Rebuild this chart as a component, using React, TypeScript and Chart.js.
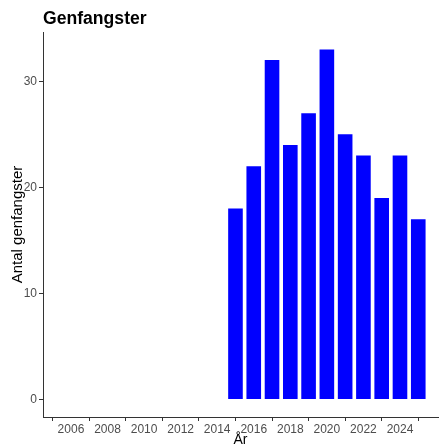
import React, { useEffect, useRef } from "react";
import { Chart, registerables } from "chart.js";

Chart.register(...registerables);

const years = [2015, 2016, 2017, 2018, 2019, 2020, 2021, 2022, 2023, 2024, 2025];
const recaptures = [18, 22, 32, 24, 27, 33, 25, 23, 19, 23, 17];
const xTicks = [2006, 2008, 2010, 2012, 2014, 2016, 2018, 2020, 2022, 2024];
const yTicks = [0, 10, 20, 30];
const titleText = "Genfangster";
const xTitle = "År";
const yTitle = "Antal genfangster";

const FONT = "'Liberation Sans', Arial, sans-serif";

const textPlugin = {
  id: "textPlugin",
  afterDraw(chart: any) {
    const { ctx, chartArea } = chart;
    ctx.save();
    ctx.fillStyle = "#000";
    ctx.font = `bold 17.6px ${FONT}`;
    ctx.textAlign = "left";
    ctx.textBaseline = "alphabetic";
    ctx.fillText(titleText, chartArea.left, 24);

    ctx.font = `14px ${FONT}`;
    ctx.textAlign = "center";
    ctx.textBaseline = "middle";
    ctx.fillText(xTitle, (chartArea.left + chartArea.right) / 2, 440);

    ctx.font = `15px ${FONT}`;
    ctx.translate(18, (chartArea.top + chartArea.bottom) / 2);
    ctx.rotate(-Math.PI / 2);
    ctx.fillText(yTitle, 0, 0);
    ctx.restore();
  },
};

export default function App() {
  const ref = useRef<HTMLCanvasElement>(null);
  useEffect(() => {
    const chart = new Chart(ref.current!, {
      type: "bar",
      data: {
        datasets: [
          {
            data: years.map((y, i) => ({ x: y, y: recaptures[i] })),
            backgroundColor: "#0000FF",
            borderWidth: 0,
            barPercentage: 0.8,
            categoryPercentage: 1,
          },
        ],
      },
      options: {
        animation: false,
        responsive: false,
        maintainAspectRatio: false,
        layout: { padding: { top: 32, right: 3, left: 0, bottom: 0 } },
        plugins: { legend: { display: false }, tooltip: { enabled: false }, title: { display: false } },
        scales: {
          x: {
            type: "linear",
            min: 2004.47,
            max: 2026.08,
            offset: false,
            afterBuildTicks: (s: any) => {
              s.ticks = xTicks.map((v) => ({ value: v }));
            },
            afterFit: (s: any) => {
              s.height = 30;
            },
            ticks: {
              color: "#4D4D4D",
              font: { family: FONT, size: 12 },
              padding: 1,
              maxRotation: 0,
              autoSkip: false,
              callback: (v: any) => String(v),
            },
            grid: { display: true, drawOnChartArea: false, drawTicks: true, tickLength: 4, color: "#333333" },
            border: { display: true, color: "#333333", width: 1 },
          },
          y: {
            type: "linear",
            min: -1.65,
            max: 34.65,
            afterBuildTicks: (s: any) => {
              s.ticks = yTicks.map((v) => ({ value: v }));
            },
            afterFit: (s: any) => {
              s.width = 43;
            },
            ticks: {
              color: "#4D4D4D",
              font: { family: FONT, size: 12 },
              padding: 2,
              autoSkip: false,
            },
            grid: { display: true, drawOnChartArea: false, drawTicks: true, tickLength: 4, color: "#333333" },
            border: { display: true, color: "#333333", width: 1 },
          },
        },
      },
      plugins: [textPlugin],
    } as any);
    return () => chart.destroy();
  }, []);
  return (
    <div style={{ position: "fixed", left: 0, top: 0, width: 441, height: 447, background: "#fff" }}>
      <canvas ref={ref} width={441} height={447} style={{ display: "block" }} />
    </div>
  );
}
